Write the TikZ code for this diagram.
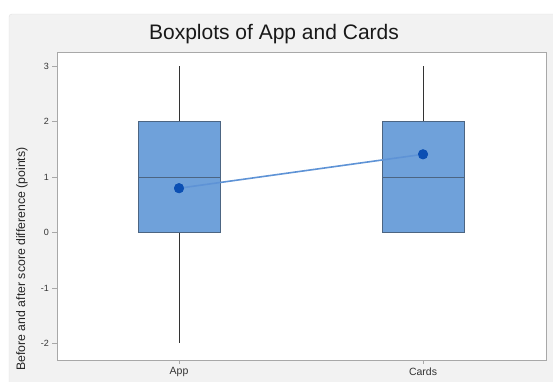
\documentclass[tikz,border=0pt]{standalone}
\usepackage{fontspec}
\setmainfont{Liberation Sans}
\definecolor{panel}{HTML}{F2F2F2}
\definecolor{panelline}{HTML}{E2E2E2}
\definecolor{frame}{HTML}{A8A8A8}
\definecolor{boxfill}{HTML}{6FA1DA}
\definecolor{boxline}{HTML}{4C6582}
\definecolor{meandot}{HTML}{0B4FB3}
\definecolor{meanline}{HTML}{5E93D6}
\definecolor{ticktext}{HTML}{333333}
\tikzset{
  boxbody/.style={fill=boxfill, draw=boxline, line width=0.9pt},
  whisker/.style={draw=black!80, line width=0.7pt},
  medianline/.style={draw=boxline, line width=0.9pt},
  tickmark/.style={draw=frame, line width=0.6pt},
  ticklabel/.style={font=\fontsize{9}{10}\selectfont, text=ticktext, inner sep=0pt},
  catlabel/.style={font=\fontsize{10.5}{11}\selectfont, text=ticktext, inner sep=0pt},
  meanpt/.style={circle, fill=meandot, inner sep=0pt, minimum size=10pt},
}
\begin{document}
\begin{tikzpicture}[x=1pt, y=-1pt]
  \useasboundingbox (0,0) rectangle (553,381);
  \fill[white] (0,0) rectangle (553,381);
  % grey panel behind the chart
  \draw[fill=panel, draw=panelline, rounded corners=3pt] (9,14) rectangle (560,390);
  % plot area
  \draw[fill=white, draw=frame, line width=0.8pt] (57,52) rectangle (546,360);
  % title
  \node[font=\fontsize{21}{24}\selectfont, text=black!90] (title) at (274,34) {Boxplots of App and Cards};
  % y axis ticks and labels ( y = 232.5 - 55.4 v )
  \foreach \v in {-2,-1,0,1,2,3} {
    \pgfmathsetmacro{\yy}{232.5-55.4*\v}
    \draw[tickmark] (52,\yy) -- (57,\yy);
    \node[ticklabel, anchor=east] (yl\v) at (49,\yy) {\v};
  }
  % axis title
  \node[rotate=90, font=\fontsize{12.3}{14}\selectfont, text=black!85] (ytitle) at (22,259) {Before and after score difference (points)};
  % x axis ticks and labels
  \draw[tickmark] (179,360) -- (179,364);
  \draw[tickmark] (423,360) -- (423,364);
  \node[catlabel] (xapp) at (179,372) {App};
  \node[catlabel] (xcards) at (423,372) {Cards};
  % App: whiskers, box, median
  \draw[whisker] (179,66.3) -- (179,343.3);
  \draw[boxbody] (138.5,121.7) rectangle (220.5,232.5);
  \draw[medianline] (138.5,177.1) -- (220.5,177.1);
  % Cards: upper whisker, box, median
  \draw[whisker] (423,66.3) -- (423,121.7);
  \draw[boxbody] (382.5,121.7) rectangle (464.5,232.5);
  \draw[medianline] (382.5,177.1) -- (464.5,177.1);
  % means joined by a line
  \node[meanpt] (mapp) at (179,188.2) {};
  \node[meanpt] (mcards) at (423,154.3) {};
  \draw[meanline, line width=1.6pt] (mapp.center) -- (mcards.center);
  \node[meanpt] at (mapp) {};
  \node[meanpt] at (mcards) {};
\end{tikzpicture}
\end{document}
